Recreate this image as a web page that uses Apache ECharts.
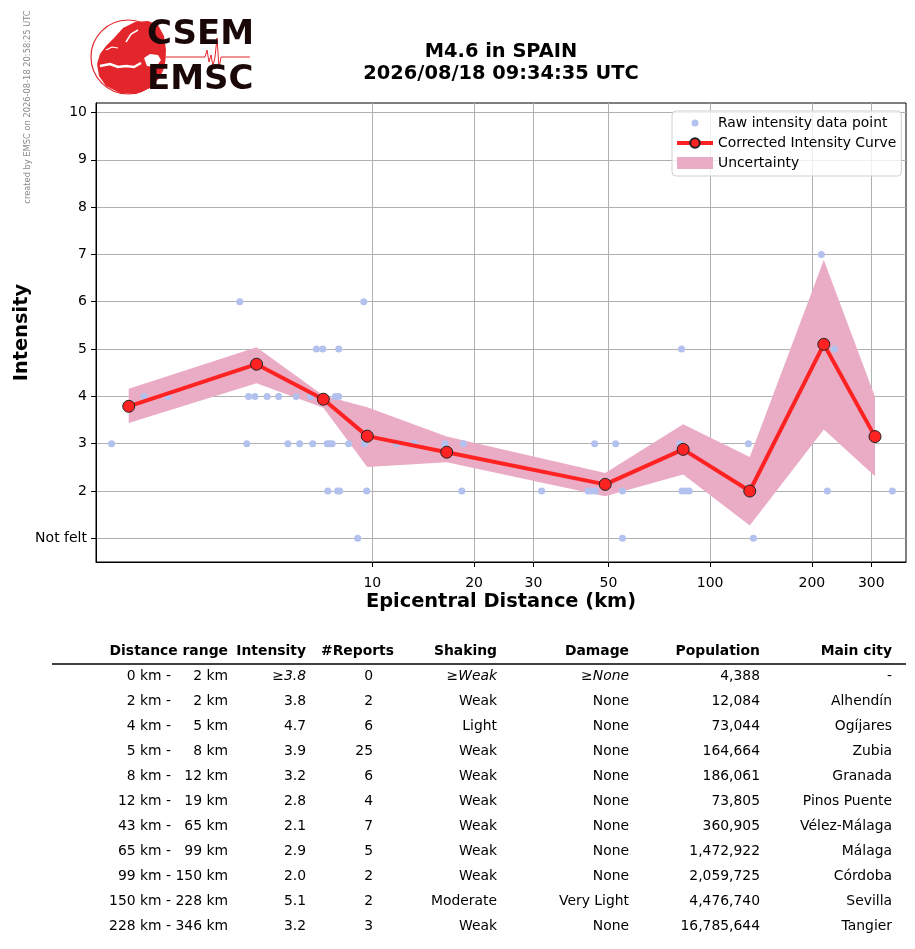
<!DOCTYPE html>
<html>
<head>
<meta charset="utf-8">
<script src="https://cdn.jsdelivr.net/npm/echarts@6.0.0/dist/echarts.min.js"></script>
<style>
  html, body { margin: 0; padding: 0; background: #fff; }
  #chart { width: 915px; height: 949px; }
</style>
</head>
<body>
<div id="chart"></div>
<script>
const fontFamily = 'DejaVu Sans';

// raw reports (distance in km, intensity)
const rawDistance = [
  9.05, 55.0, 134.3,
  7.38, 7.89, 8.00, 9.62, 18.4, 31.7, 43.5, 44.4, 45.7, 55.0, 82.5, 84.4, 86.7, 222.3, 346.2,
  1.69, 4.25, 5.62, 6.09, 6.66, 7.35, 7.48, 7.60, 8.51, 9.47, 11.8, 13.3, 16.4, 18.6, 45.5, 52.5, 81.2, 129.8,
  2.11, 2.48, 4.30, 4.49, 4.88, 5.28, 5.95, 6.56, 7.77, 7.95,
  6.83, 7.13, 7.95, 82.3, 233.2,
  4.05, 9.43,
  213.5
];
const rawIntensity = [
  1, 1, 1,
  2, 2, 2, 2, 2, 2, 2, 2, 2, 2, 2, 2, 2, 2, 2,
  3, 3, 3, 3, 3, 3, 3, 3, 3, 3, 3, 3, 3, 3, 3, 3, 3, 3,
  4, 4, 4, 4, 4, 4, 4, 4, 4, 4,
  5, 5, 5, 5, 5,
  6, 6,
  7
];

// corrected curve and its uncertainty band
const curveDistance = [1.90, 4.54, 7.16, 9.66, 16.6, 48.9, 83.2, 131, 217, 307.6];
const curveIntensity = [3.79, 4.68, 3.94, 3.16, 2.82, 2.14, 2.88, 2.0, 5.10, 3.15];
const bandUpper = [4.16, 5.04, 4.02, 3.77, 3.15, 2.38, 3.41, 2.72, 6.88, 3.99];
const bandLower = [3.44, 4.28, 3.76, 2.51, 2.61, 1.89, 2.35, 1.27, 3.30, 2.31];

const xTickValues = [10, 20, 30, 50, 100, 200, 300];
const yTickValues = [1, 2, 3, 4, 5, 6, 7, 8, 9, 10];

// summary table
const tableHeader = ['Distance range', 'Intensity', '#Reports', 'Shaking', 'Damage', 'Population', 'Main city'];
const rangeFrom = ['0 km -', '2 km -', '4 km -', '5 km -', '8 km -', '12 km -', '43 km -', '65 km -', '99 km -', '150 km -', '228 km -'];
const rangeTo = ['2 km', '2 km', '5 km', '8 km', '12 km', '19 km', '65 km', '99 km', '150 km', '228 km', '346 km'];
const rowIntensity = ['≥3.8', '3.8', '4.7', '3.9', '3.2', '2.8', '2.1', '2.9', '2.0', '5.1', '3.2'];
const rowReports = ['0', '2', '6', '25', '6', '4', '7', '5', '2', '2', '3'];
const rowShaking = ['≥Weak', 'Weak', 'Light', 'Weak', 'Weak', 'Weak', 'Weak', 'Weak', 'Weak', 'Moderate', 'Weak'];
const rowDamage = ['≥None', 'None', 'None', 'None', 'None', 'None', 'None', 'None', 'None', 'Very Light', 'None'];
const rowPopulation = ['4,388', '12,084', '73,044', '164,664', '186,061', '73,805', '360,905', '1,472,922', '2,059,725', '4,476,740', '16,785,644'];
const rowCity = ['-', 'Alhendín', 'Ogíjares', 'Zubia', 'Granada', 'Pinos Puente', 'Vélez-Málaga', 'Málaga', 'Córdoba', 'Sevilla', 'Tangier'];

const red = '#e3262b';

function txt(x, y, text, opts) {
  return {
    type: 'text',
    x: x,
    y: y,
    silent: true,
    style: Object.assign({
      text: text,
      fill: '#000',
      fontFamily: fontFamily,
      fontSize: 13.9,
      align: 'right',
      verticalAlign: 'middle'
    }, opts || {})
  };
}

function buildTable() {
  const els = [];
  const headerRight = [228, 306, 394, 497, 629, 760, 892];
  tableHeader.forEach((h, i) => {
    els.push(txt(headerRight[i], 651, h, { fontWeight: 'bold' }));
  });
  els.push({
    type: 'line',
    silent: true,
    shape: { x1: 52, y1: 664, x2: 906, y2: 664 },
    style: { stroke: '#000', lineWidth: 1.6 }
  });
  for (let i = 0; i < rangeFrom.length; i++) {
    const y = 676.5 + i * 25;
    const it = i === 0 ? { fontStyle: 'italic' } : {};
    els.push(txt(171, y, rangeFrom[i]));
    els.push(txt(228, y, rangeTo[i]));
    els.push(txt(306, y, rowIntensity[i], it));
    els.push(txt(373, y, rowReports[i]));
    els.push(txt(497, y, rowShaking[i], it));
    els.push(txt(629, y, rowDamage[i], it));
    els.push(txt(760, y, rowPopulation[i]));
    els.push(txt(892, y, rowCity[i]));
  }
  return els;
}

function buildLogo() {
  const poly = (pts, fill) => ({
    type: 'polygon',
    silent: true,
    shape: { points: pts },
    style: { fill: fill }
  });
  const seaLine = (pts, w) => ({
    type: 'polyline',
    silent: true,
    shape: { points: pts },
    style: { stroke: '#fff', lineWidth: w, fill: 'none' }
  });
  return [
    {
      type: 'circle',
      silent: true,
      shape: { cx: 128, cy: 57, r: 37 },
      style: { fill: 'none', stroke: red, lineWidth: 1.2 }
    },
    poly([[123, 28], [135, 22], [148, 21], [158, 25], [164, 36], [166, 50], [165, 62], [160, 76], [150, 88], [136, 94],
      [120, 93], [106, 86], [99, 76], [97, 64], [100, 54], [106, 46], [114, 38]], red),
    poly([[144, 58], [150, 54], [158, 55], [161, 60], [156, 67], [147, 66]], '#fff'),
    seaLine([[100, 66], [110, 64], [118, 67], [126, 66], [134, 67], [141, 63]], 2.5),
    seaLine([[126, 42], [131, 34], [138, 30]], 1.5),
    seaLine([[106, 50], [112, 47], [118, 48]], 1.2),
    {
      type: 'polyline',
      silent: true,
      shape: { points: [[166, 57], [205, 57], [207, 50], [209, 62], [211, 55], [213, 66], [215, 57], [217, 38], [219, 68], [221, 57], [250, 57]] },
      style: { stroke: red, lineWidth: 1, fill: 'none' }
    },
    txt(147, 35, 'CSEM', { align: 'left', fontSize: 34, fontWeight: 'bold', fill: '#1a0808' }),
    txt(147, 80.5, 'EMSC', { align: 'left', fontSize: 34, fontWeight: 'bold', fill: '#1a0808' })
  ];
}

function renderBand(params, api) {
  if (params.dataIndex !== 0) return;
  const pts = [];
  for (let i = 0; i < curveDistance.length; i++) {
    pts.push(api.coord([curveDistance[i], bandUpper[i]]));
  }
  for (let i = curveDistance.length - 1; i >= 0; i--) {
    pts.push(api.coord([curveDistance[i], bandLower[i]]));
  }
  return {
    type: 'polygon',
    shape: { points: pts },
    style: { fill: '#e9acc4' }
  };
}

const axisFont = { fontFamily: fontFamily, fontSize: 14, color: '#000' };
const titleFont = { fontFamily: fontFamily, fontSize: 19.4, fontWeight: 'bold', color: '#000' };

const option = {
  backgroundColor: '#fff',
  animation: false,
  grid: {
    left: 96, right: 9, top: 103, bottom: 387,
    outerBoundsMode: 'none',
    containLabel: false,
    show: true, borderColor: '#000', borderWidth: 1, backgroundColor: 'transparent'
  },
  xAxis: {
    type: 'log',
    logBase: 10,
    min: 1.52,
    max: 380,
    name: 'Epicentral Distance (km)',
    nameLocation: 'middle',
    nameGap: 30,
    nameTextStyle: titleFont,
    axisLine: { show: true, lineStyle: { color: '#000', width: 1 } },
    axisTick: { show: true, length: 5, lineStyle: { color: '#000' }, customValues: xTickValues },
    axisLabel: Object.assign({ margin: 14, customValues: xTickValues, formatter: (v) => String(Math.round(v)) }, axisFont),
    splitLine: { show: true, lineStyle: { color: '#b0b0b0', width: 1 } },
    minorTick: { show: false },
    minorSplitLine: { show: false }
  },
  yAxis: {
    type: 'value',
    min: 0.5,
    max: 10.2,
    name: 'Intensity',
    nameLocation: 'middle',
    nameGap: 65,
    nameMoveOverlap: false,
    nameTextStyle: titleFont,
    axisLine: { show: true, lineStyle: { color: '#000', width: 1 } },
    axisTick: { show: true, length: 5, lineStyle: { color: '#000' }, customValues: yTickValues },
    axisLabel: Object.assign({ margin: 9, customValues: yTickValues, formatter: (v) => (v === 1 ? 'Not felt' : String(v)) }, axisFont),
    splitLine: { show: true, lineStyle: { color: '#b0b0b0', width: 1 } }
  },
  legend: {
    orient: 'vertical',
    left: 672,
    top: 111,
    padding: [5, 5, 6, 3],
    itemGap: 6,
    itemWidth: 36,
    itemHeight: 12,
    backgroundColor: 'rgba(255,255,255,0.8)',
    borderColor: '#d0d0d0',
    borderWidth: 1,
    borderRadius: 4,
    textStyle: { fontFamily: fontFamily, fontSize: 13.9, color: '#000' },
    data: [
      {
        name: 'Raw intensity data point',
        icon: 'path://M0,0M36,12M18,6m-3.5,0a3.5,3.5 0 1,0 7,0a3.5,3.5 0 1,0 -7,0z'
      },
      { name: 'Corrected Intensity Curve', lineStyle: { width: 4 } },
      { name: 'Uncertainty', icon: 'rect' }
    ]
  },
  series: [
    {
      name: 'Uncertainty',
      type: 'custom',
      renderItem: renderBand,
      itemStyle: { color: '#e9acc4' },
      encode: { x: 0, y: [1, 2] },
      data: curveDistance.map((d, i) => [d, bandLower[i], bandUpper[i]]),
      z: 1
    },
    {
      name: 'Raw intensity data point',
      type: 'scatter',
      symbol: 'circle',
      symbolSize: 7,
      itemStyle: { color: '#b3c1ee', opacity: 1 },
      data: rawDistance.map((d, i) => [d, rawIntensity[i]]),
      z: 2
    },
    {
      name: 'Corrected Intensity Curve',
      type: 'line',
      symbol: 'circle',
      symbolSize: 12,
      showSymbol: true,
      lineStyle: { color: '#ff2222', width: 4 },
      itemStyle: { color: '#ff2222', borderColor: '#222', borderWidth: 1 },
      data: curveDistance.map((d, i) => [d, curveIntensity[i]]),
      z: 3
    }
  ],
  graphic: [].concat(
    [
      txt(501, 41, 'M4.6 in SPAIN\n2026/08/18 09:34:35 UTC', {
        align: 'center', verticalAlign: 'top', fontSize: 19.4, fontWeight: 'bold', lineHeight: 22
      }),
      {
        type: 'text',
        x: 28,
        y: 107,
        rotation: Math.PI / 2,
        silent: true,
        style: {
          text: 'created by EMSC on 2026-08-18 20:58:25 UTC',
          fill: '#888', fontFamily: fontFamily, fontSize: 8.3,
          align: 'center', verticalAlign: 'middle'
        }
      }
    ],
    buildLogo(),
    buildTable()
  )
};

const myChart = echarts.init(document.getElementById('chart'));
myChart.setOption(option);
</script>
</body>
</html>
